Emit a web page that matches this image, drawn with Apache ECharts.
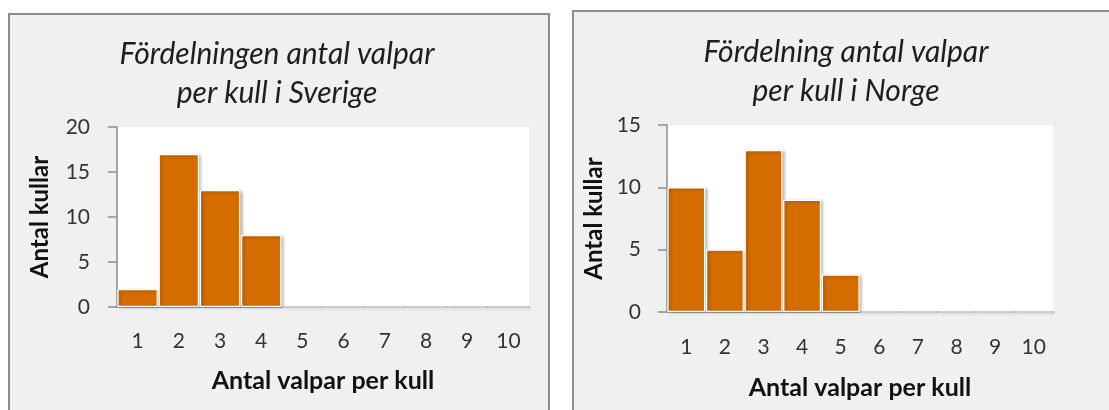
<!DOCTYPE html>
<html>
<head>
<meta charset="utf-8">
<script src="https://cdn.jsdelivr.net/npm/echarts@6/dist/echarts.min.js"></script>
<style>
  html, body { margin: 0; padding: 0; background: #ffffff; }
  body { width: 1109px; height: 410px; position: relative; overflow: hidden; }
  .panel { position: absolute; background: #f0f0f0; border: 2px solid #8c8c8c; box-sizing: border-box; }
  #chart { position: absolute; left: 0; top: 0; width: 1109px; height: 410px; }
</style>
</head>
<body>
<div class="panel" style="left:8px; top:13px; width:542px; height:420px;"></div>
<div class="panel" style="left:572px; top:10px; width:560px; height:420px;"></div>
<div id="chart"></div>
<script>
// ---- data ----
const categories = ['1', '2', '3', '4', '5', '6', '7', '8', '9', '10'];
const swedenValues = [2, 17, 13, 8, 0, 0, 0, 0, 0, 0];
const norwayValues = [10, 5, 13, 9, 3, 0, 0, 0, 0, 0];
const swedenTitle = 'Fördelningen antal valpar\nper kull i Sverige';
const norwayTitle = 'Fördelning antal valpar\nper kull i Norge';
const xAxisName = 'Antal valpar per kull';
const yAxisName = 'Antal kullar';
const swedenYMax = 20;
const norwayYMax = 15;
const yInterval = 5;

// ---- styles ----
const FONT = 'Lato, "Open Sans", sans-serif';
const BAR = '#d46c00';
const AXIS = '#8c8c8c';

function xAxisFor(gridIndex, margin, nameGap) {
  return {
    type: 'category', gridIndex: gridIndex, data: categories,
    axisLine: { show: true, lineStyle: { color: AXIS, width: 1.5 } },
    axisTick: { show: false },
    axisLabel: { margin: margin, fontFamily: FONT, fontSize: 21, color: '#333' },
    name: xAxisName, nameLocation: 'middle', nameGap: nameGap,
    nameTextStyle: { fontFamily: FONT, fontSize: 25, fontWeight: 'bold', color: '#111' },
    splitLine: { show: false }
  };
}
function yAxisFor(gridIndex, max, margin, nameGap) {
  return {
    type: 'value', gridIndex: gridIndex, min: 0, max: max, interval: yInterval,
    axisLine: { show: true, lineStyle: { color: AXIS, width: 1.5 } },
    axisTick: { show: true, length: 9, lineStyle: { color: AXIS, width: 1.5 } },
    axisLabel: { margin: margin, fontFamily: FONT, fontSize: 21, color: '#333' },
    splitLine: { show: false },
    name: yAxisName, nameLocation: 'middle', nameGap: nameGap, nameRotate: 90,
    nameTextStyle: { fontFamily: FONT, fontSize: 24, fontWeight: 'bold', color: '#111' }
  };
}
function barSeries(idx, values) {
  return {
    type: 'bar', xAxisIndex: idx, yAxisIndex: idx, data: values,
    barCategoryGap: '2%',
    itemStyle: {
      color: BAR, borderColor: '#ffffff', borderWidth: 1.2,
      shadowColor: 'rgba(0,0,0,0.28)', shadowBlur: 3, shadowOffsetX: 2, shadowOffsetY: 1
    },
    emphasis: { disabled: true },
    silent: true
  };
}

const chart = echarts.init(document.getElementById('chart'), null, { renderer: 'canvas' });
chart.setOption({
  backgroundColor: 'transparent',
  animation: false,
  title: [
    { text: swedenTitle, left: 277, top: 35, textAlign: 'center', padding: 0,
      textStyle: { fontFamily: FONT, fontStyle: 'italic', fontWeight: 'normal', fontSize: 30, lineHeight: 39, color: '#1e1e1e' } },
    { text: norwayTitle, left: 846, top: 33, textAlign: 'center', padding: 0,
      textStyle: { fontFamily: FONT, fontStyle: 'italic', fontWeight: 'normal', fontSize: 30, lineHeight: 39, color: '#1e1e1e' } }
  ],
  grid: [
    { left: 117, top: 127, width: 412, height: 180, show: true, backgroundColor: '#ffffff', borderWidth: 0 },
    { left: 667, top: 125, width: 386, height: 187, show: true, backgroundColor: '#ffffff', borderWidth: 0 }
  ],
  xAxis: [xAxisFor(0, 24, 61), xAxisFor(1, 25, 63)],
  yAxis: [yAxisFor(0, swedenYMax, 27, 65), yAxisFor(1, norwayYMax, 26, 61)],
  series: [barSeries(0, swedenValues), barSeries(1, norwayValues)]
});
</script>
</body>
</html>
